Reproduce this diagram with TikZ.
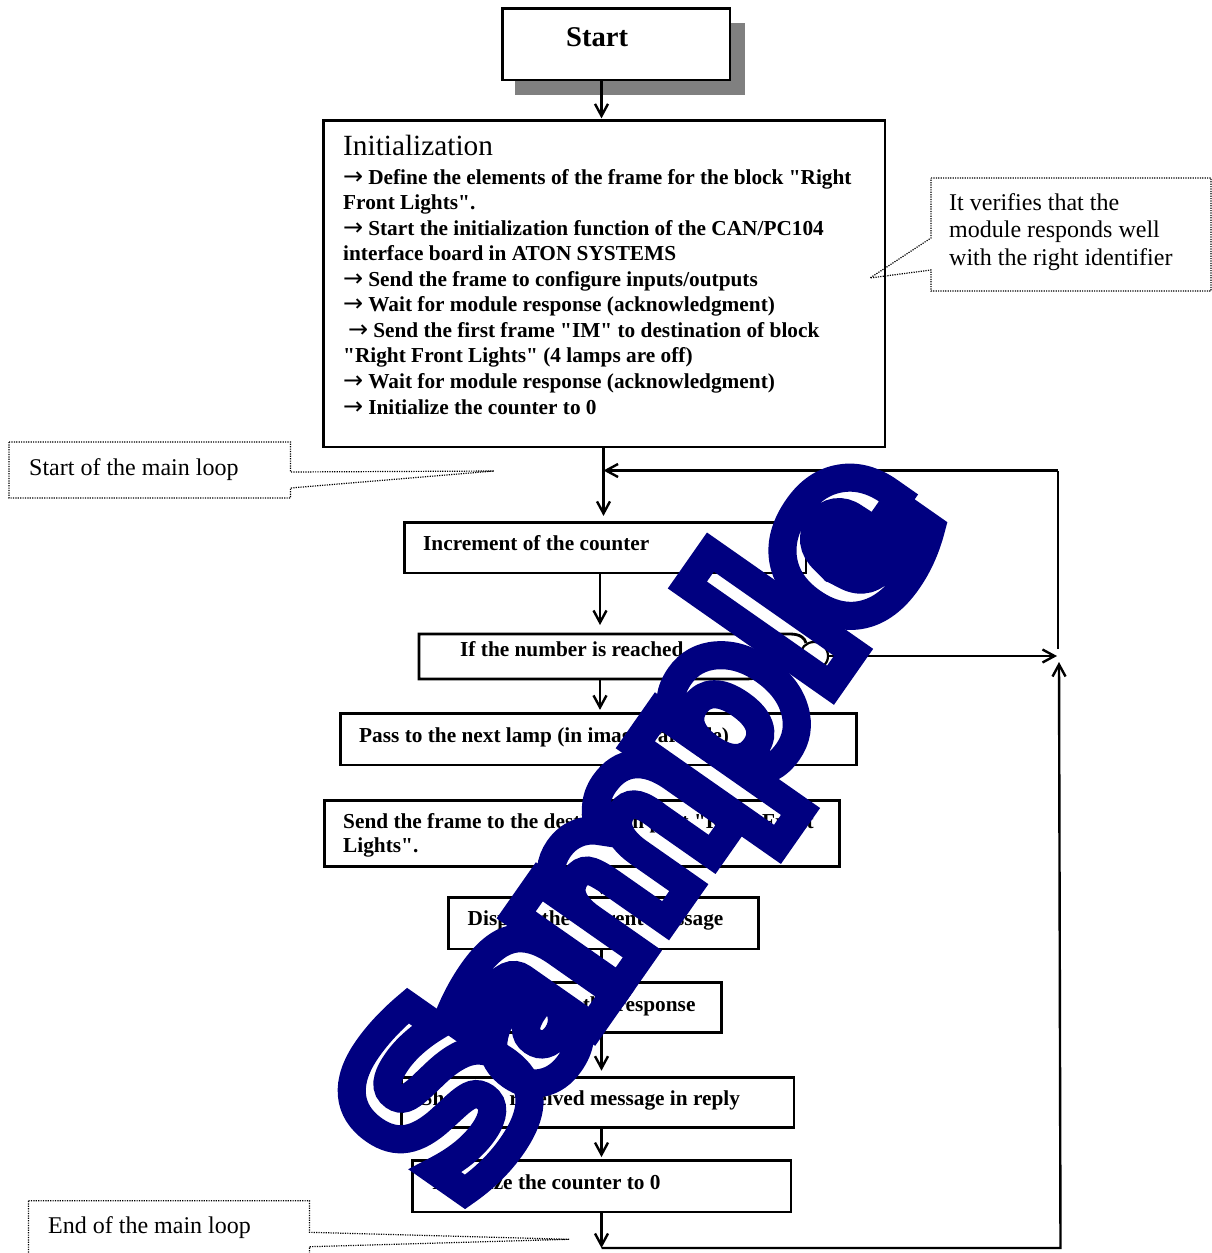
\documentclass[tikz,border=0pt]{standalone}
\usepackage{fontspec}
\setmainfont{Liberation Serif}[Ligatures=TeXOff]
\newfontfamily\wmfont{DejaVu Sans}
\usetikzlibrary{arrows.meta}
\definecolor{wmnavy}{RGB}{0,0,128}
\definecolor{shadowgrey}{RGB}{128,128,128}
\newcommand\arr{{\wmfont\mdseries\fontsize{24}{24}\selectfont →}\kern5pt}
% stroke-only glyph outlines for the watermark lettering
\newcommand\wmon{\special{pdf:literal direct 1 Tr 28 w 0 j 4 M}}
\newcommand\wmoff{\special{pdf:literal direct 0 Tr}}

\begin{document}
\begin{tikzpicture}[x=1pt, y=-1pt,
  box/.style={draw, fill=white, line width=2.8pt, inner sep=0pt, anchor=north west},
  flow/.style={line width=2.4pt, -{Straight Barb[length=12pt,width=13pt]}},
  plain/.style={line width=2.4pt},
  note/.style={draw, line width=1.2pt, dash pattern=on 1.2pt off 1.2pt},
  btxt/.style={anchor=base west, inner sep=0pt, font=\bfseries\fontsize{21.3}{25.6}\selectfont},
  ntxt/.style={anchor=base west, inner sep=0pt, font=\fontsize{24}{27.5}\selectfont},
  wm/.style={anchor=base west, inner sep=0pt, rotate=55, text=wmnavy,
    font=\wmfont\bfseries\fontsize{230}{240}\selectfont}]

\useasboundingbox (0,0) rectangle (1212,1253);

% ---------- start block with its drop shadow ----------
\fill[shadowgrey] (515,22.7) rectangle (745,95);
\node[box, minimum width=227.2pt, minimum height=71.2pt] (start) at (501.4,7.4) {};
\node[anchor=base west, inner sep=0pt, font=\bfseries\fontsize{28.6}{32}\selectfont] (starttext) at (566,46.7) {Start};

% ---------- initialization block ----------
\node[box, minimum width=561.7pt, minimum height=326.2pt] (init) at (321.9,119.4) {};
\node[anchor=base west, inner sep=0pt, font=\fontsize{29.3}{33}\selectfont] (inittitle) at (343,155.7) {Initialization};
\foreach \ln [count=\i from 0] in {
  {\arr Define the elements of the frame for the block "Right},
  {Front Lights".},
  {\arr Start the initialization function of the CAN/PC104},
  {interface board in ATON SYSTEMS},
  {\arr Send the frame to configure inputs/outputs},
  {\arr Wait for module response (acknowledgment)},
  {\hspace*{5pt}\arr Send the first frame "IM" to destination of block},
  {"Right Front Lights" (4 lamps are off)},
  {\arr Wait for module response (acknowledgment)},
  {\arr Initialize the counter to 0}}
  \node[btxt] (initline\i) at (343,{184+25.56*\i}) {\ln};

% ---------- main loop blocks ----------
\node[box, minimum width=401.2pt, minimum height=50.7pt] (incr) at (403.4,520.9) {};
\node[btxt] (tincr) at (423,550.5) {Increment of the counter};

% test block with its rounded right end and junction circle
\draw[line width=2.8pt] (802,664) .. controls (790,672) and (760,679) .. (745,679)
  -- (419,679) -- (419,634) -- (790,634) .. controls (800,634) and (805,638) .. (806,643);
\node[draw, circle, line width=2.2pt, minimum size=28pt, inner sep=0pt] (joint) at (814,656) {};
\coordinate (iftop) at (600,634);
\coordinate (ifbot) at (600,679);
\node[btxt] (tif) at (460,656) {If the number is reached};

\node[box, minimum width=515.7pt, minimum height=51.7pt] (pass) at (339.4,711.9) {};
\node[btxt] (tpass) at (359,742.7) {Pass to the next lamp (in image variable)};

\node[box, minimum width=515pt, minimum height=66.6pt] (send) at (323.2,798.7) {};
\node[btxt] (tsend1) at (343,828) {Send the frame to the destination part "Right Front};
\node[btxt] (tsend2) at (343,852.7) {Lights".};

\node[box, minimum width=309.8pt, minimum height=51.2pt] (disp) at (447.1,896.4) {};
\node[btxt] (tdisp) at (467.5,925.5) {Display the current message};

\node[box, minimum width=238.9pt, minimum height=49.9pt] (wait) at (481.4,981.4) {};
\node[btxt] (twait) at (501,1011.5) {Wait for the response};

\node[box, minimum width=392.2pt, minimum height=50.6pt] (show) at (400.4,1075.7) {};
\node[btxt] (tshow) at (420.5,1105) {Show the received message in reply};

\node[box, minimum width=378.2pt, minimum height=51.5pt] (initc) at (411.4,1159.1) {};
\node[btxt] (tinitc) at (432,1189) {Initialize the counter to 0};

% ---------- connectors ----------
\coordinate (spine) at (601.5,0);
\coordinate (spineA) at (603.5,0);
\coordinate (loopTop) at (1058,470.5);
\coordinate (loopMid) at (1058,649);
\coordinate (loopIn) at (1057,656);
\coordinate (loopUp) at (1059,662);
\coordinate (loopBot) at (1060.5,1248);
\coordinate (spineBot) at (601.5,1248);

\draw[flow, shorten >=1pt] (spine |- start.south) -- (spine |- init.north);
\draw[flow, shorten >=5pt] (spineA |- init.south) -- (spineA |- incr.north);
\draw[flow, shorten >=9pt] (iftop |- incr.south) -- (iftop);
\draw[flow, shorten >=2pt] (ifbot) -- (ifbot |- pass.north);
\draw[flow, shorten >=2pt] (spine |- pass.south) -- (spine |- send.north);
\draw[flow, shorten >=2pt] (spine |- send.south) -- (spine |- disp.north);
\draw[flow, shorten >=2pt] (spine |- disp.south) -- (spine |- wait.north);
\draw[flow, shorten >=5pt] (spine |- wait.south) -- (spine |- show.north);
\draw[flow, shorten >=2pt] (spine |- show.south) -- (spine |- initc.north);
\draw[flow] (spine |- initc.south) -- (spineBot);
\draw[flow] (spineBot) -- (loopBot) -- (loopUp);
\draw[plain] (loopMid) -- (loopTop);
\draw[flow] (loopTop) -- (spineA |- loopTop);
\draw[flow] (joint.east) -- (loopIn);

% ---------- callouts ----------
\draw[note] (931,178) -- (1211,178) -- (1211,291) -- (931,291) -- (931,270)
  -- (870,278) -- (931,238) -- cycle;
\node[ntxt] (n1a) at (949,210) {It verifies that the};
\node[ntxt] (n1b) at (949,237.5) {module responds well};
\node[ntxt] (n1c) at (949,265) {with the right identifier};

\draw[note] (9,442) -- (290.5,442) -- (290.5,472) -- (494,471) -- (290.5,488)
  -- (290.5,498) -- (9,498) -- cycle;
\node[ntxt] (n2) at (29,475) {Start of the main loop};

\draw[note] (28.5,1200.7) -- (309.5,1200.7) -- (309.5,1232.3) -- (569,1239.3)
  -- (309.5,1246.7) -- (309.5,1262) -- (28.5,1262) -- cycle;
\node[ntxt] (n3) at (48,1233.5) {End of the main loop};

% ---------- watermark lettering ----------
\node[wm] (wmark) at (461.8,1211.8) {\wmon S\kern-36pt a\kern-30pt m\kern-32pt p\kern-4pt l\kern-12pt e\wmoff};

\end{tikzpicture}
\end{document}
